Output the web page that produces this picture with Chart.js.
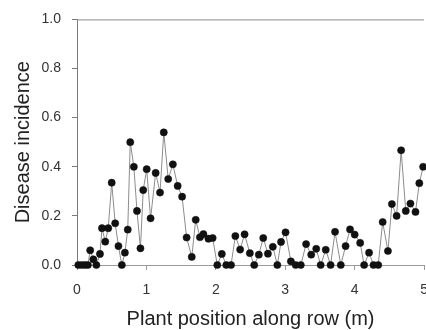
<!DOCTYPE html>
<html><head><meta charset="utf-8">
<script src="https://cdn.jsdelivr.net/npm/chart.js@4"></script>
<style>
html,body{margin:0;padding:0;overflow:hidden;background:#fff;width:426px;height:330px}
#wrap{width:440px;height:330px;position:relative}
canvas{display:block}
</style>
</head><body><div id="wrap"><canvas id="c" width="440" height="330" style="width:440px;height:330px"></canvas></div>
<script>
const positions = [0.019,0.067,0.114,0.157,0.19,0.236,0.279,0.331,0.36,0.407,0.45,0.5,0.55,0.597,0.646,0.69,0.731,0.767,0.819,0.864,0.914,0.954,1.004,1.06,1.133,1.196,1.25,1.314,1.381,1.45,1.514,1.579,1.653,1.71,1.771,1.821,1.893,1.954,2.021,2.086,2.15,2.219,2.281,2.35,2.414,2.49,2.553,2.619,2.683,2.75,2.821,2.886,2.939,3.004,3.081,3.15,3.224,3.3,3.374,3.446,3.51,3.583,3.653,3.717,3.8,3.869,3.933,4.0,4.079,4.136,4.207,4.271,4.339,4.403,4.479,4.536,4.604,4.669,4.736,4.803,4.876,4.931,4.986];
const incidence = [0,0,0,0,0.06,0.023,0,0.045,0.15,0.095,0.15,0.335,0.17,0.077,0,0.05,0.144,0.50,0.40,0.22,0.068,0.305,0.39,0.19,0.375,0.295,0.54,0.35,0.41,0.322,0.278,0.112,0.033,0.184,0.113,0.126,0.107,0.11,0,0.045,0,0,0.118,0.063,0.125,0.048,0,0.042,0.11,0.046,0.074,0,0.094,0.133,0.015,0,0,0.085,0.042,0.066,0,0.062,0,0.135,0,0.077,0.145,0.124,0.09,0,0.05,0,0,0.175,0.057,0.248,0.2,0.467,0.22,0.25,0.216,0.333,0.40];
const xTickValues = [0,1,2,3,4,5];
const yTickValues = [0,0.2,0.4,0.6,0.8,1.0];

const points = positions.map((x,i)=>({x:x,y:incidence[i]}));

const topFrame = {
  id:'topFrame',
  afterDraw(chart){
    const {ctx, chartArea:a} = chart;
    ctx.save();
    ctx.strokeStyle = '#8a8a8a';
    ctx.lineWidth = 1;
    ctx.beginPath();
    ctx.moveTo(a.left, a.top + 0.5);
    ctx.lineTo(a.right, a.top + 0.5);
    ctx.stroke();
    ctx.restore();
  }
};

new Chart(document.getElementById('c'), {
  type:'scatter',
  data:{datasets:[{
    data:points,
    showLine:true,
    borderColor:'#8c8c8c',
    borderWidth:1,
    pointRadius:3.6,
    pointBackgroundColor:'#111',
    pointBorderColor:'#111',
    pointBorderWidth:0.5,
    clip:false
  }]},
  options:{
    responsive:false,
    animation:false,
    devicePixelRatio:1,
    layout:{padding:{left:0,top:15,right:13,bottom:0}},
    plugins:{legend:{display:false},tooltip:{enabled:false}},
    scales:{
      x:{
        type:'linear', min:0, max:5,
        afterBuildTicks(s){ s.ticks = xTickValues.map(v=>({value:v})); },
        afterFit(s){ s.height = 65; },
        border:{display:true,color:'#9a9a9a',width:1},
        grid:{display:true,drawOnChartArea:false,drawTicks:true,tickLength:5,color:'#9a9a9a'},
        ticks:{color:'#333',font:{family:'Liberation Sans',size:14},padding:12,maxRotation:0,autoSkip:false,callback:v=>String(v)},
        title:{display:true,text:'Plant position along row (m)',color:'#222',font:{family:'Liberation Sans',size:20},padding:{top:0,bottom:-1}}
      },
      y:{
        type:'linear', min:0, max:1,
        afterBuildTicks(s){ s.ticks = yTickValues.map(v=>({value:v})); },
        afterFit(s){ s.width = 77; },
        border:{display:true,color:'#7a7a7a',width:1},
        grid:{display:true,drawOnChartArea:false,drawTicks:true,tickLength:5,color:'#7a7a7a'},
        ticks:{color:'#333',font:{family:'Liberation Sans',size:14},padding:11,autoSkip:false,callback:v=>Number(v).toFixed(1)},
        title:{display:true,text:'Disease incidence',color:'#222',font:{family:'Liberation Sans',size:20},padding:{top:11,bottom:0}}
      }
    }
  },
  plugins:[topFrame]
});
</script>
</body></html>
